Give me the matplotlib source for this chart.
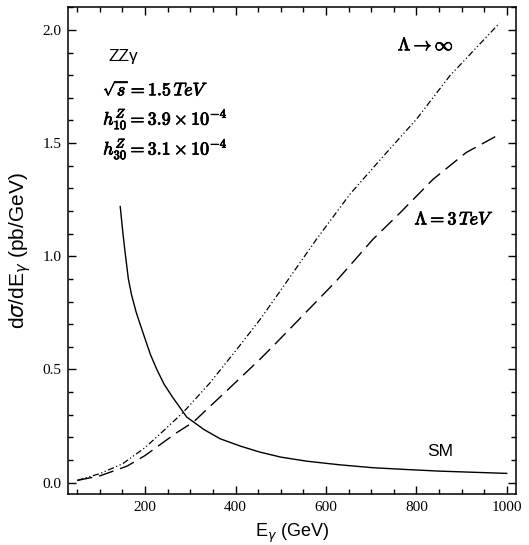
import numpy as np
import matplotlib
matplotlib.use('Agg')
import matplotlib.pyplot as plt
import matplotlib.patheffects as pe
from matplotlib.ticker import MultipleLocator, FormatStrFormatter

# SM photon spectrum
e_sm = [145, 150, 155, 163, 170, 180, 189, 200, 212, 226, 242, 260, 292, 330, 366, 410, 454, 500, 557, 630, 704, 780, 851, 925, 1000]
v_sm = [1.22, 1.12, 1.03, 0.90, 0.83, 0.755, 0.70, 0.635, 0.565, 0.50, 0.435, 0.38, 0.29, 0.235, 0.194, 0.162, 0.135, 0.113, 0.095, 0.079, 0.066, 0.058, 0.051, 0.046, 0.041]

# Lambda -> infinity
e_inf = [50, 100, 150, 200, 240, 285, 344, 406, 454, 500, 579, 653, 726, 800, 874, 940, 984]
v_inf = [0.01, 0.04, 0.083, 0.155, 0.228, 0.312, 0.442, 0.597, 0.72, 0.85, 1.075, 1.274, 1.44, 1.605, 1.797, 1.937, 2.03]

# Lambda = 3 TeV
e_3 = [50, 100, 160, 200, 270, 307, 380, 454, 480, 540, 623, 704, 763, 837, 910, 984]
v_3 = [0.01, 0.03, 0.073, 0.12, 0.221, 0.268, 0.405, 0.545, 0.597, 0.72, 0.891, 1.075, 1.19, 1.34, 1.458, 1.539]

fig = plt.figure(figsize=(5.29, 5.45), dpi=100)
ax = fig.add_axes([0.129, 0.0936, 0.846, 0.893])

ax.plot(e_sm, v_sm, color='k', lw=1.0, ls='-')
ax.plot(e_inf, v_inf, color='k', lw=0.9, ls=(0, (5, 2, 1, 2, 1, 2)))
ax.plot(e_3, v_3, color='k', lw=1.0, ls=(0, (11, 5)))

ax.set_xlim(30, 1020)
ax.set_ylim(-0.05, 2.1)
ax.xaxis.set_major_locator(MultipleLocator(200))
ax.xaxis.set_minor_locator(MultipleLocator(50))
ax.yaxis.set_major_locator(MultipleLocator(0.5))
ax.yaxis.set_minor_locator(MultipleLocator(0.1))
ax.tick_params(which='both', direction='in', top=True, right=True, width=1.0)
ax.tick_params(which='major', length=5.5, labelsize=11, pad=5)
ax.tick_params(which='minor', length=3.5)
for s in ax.spines.values():
    s.set_linewidth(1.1)
for lab in ax.get_xticklabels() + ax.get_yticklabels():
    lab.set_family('Liberation Serif')
ax.yaxis.set_major_formatter(FormatStrFormatter('%.1f'))

ax.set_xlabel(r'E$_\gamma$ (GeV)', fontsize=13, family='Liberation Sans',
              math_fontfamily='dejavusans', va='center')
ax.set_ylabel(r'd$\sigma$/dE$_\gamma$ (pb/GeV)', fontsize=15, family='Liberation Sans',
              math_fontfamily='dejavusans')
ax.xaxis.set_label_coords(0.5, -0.082)
ax.yaxis.set_label_coords(-0.078, 0.5)

bold = [pe.withStroke(linewidth=0.6, foreground='k')]
ax.text(118, 1.884, 'ZZγ', fontsize=12.5, family='Liberation Sans', va='center')
ax.text(107, 1.738, r'$\sqrt{s}=1.5\,TeV$', fontsize=13, math_fontfamily='cm',
        va='center', path_effects=bold)
ax.text(107, 1.605, r'$h^Z_{10}=3.9\times10^{-4}$', fontsize=13, math_fontfamily='cm',
        va='center', path_effects=bold)
ax.text(107, 1.473, r'$h^Z_{30}=3.1\times10^{-4}$', fontsize=13, math_fontfamily='cm',
        va='center', path_effects=bold)
ax.text(759, 1.932, r'$\Lambda\rightarrow\infty$', fontsize=13, math_fontfamily='cm',
        va='center', path_effects=bold)
ax.text(796, 1.163, r'$\Lambda=3\,TeV$', fontsize=13, math_fontfamily='cm',
        va='center', path_effects=bold)
ax.text(823, 0.138, 'SM', fontsize=12.5, family='Liberation Sans', va='center')

fig.savefig('out.png', dpi=100)
